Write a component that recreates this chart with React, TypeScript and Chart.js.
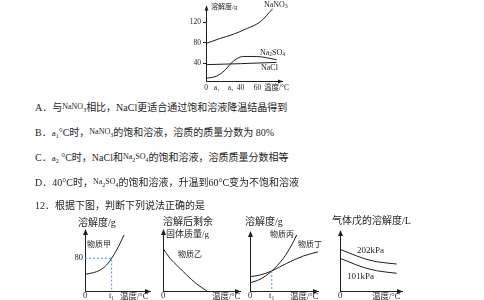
import React, { useEffect, useRef } from 'react';
import { Chart, registerables } from 'chart.js';

Chart.register(...registerables);

const FAMILY = '"Liberation Serif", "DejaVu Serif", "Noto Sans CJK SC", serif';
const INK = '#1e1e1e';
const GUIDE = '#3f9fd4';

// ---------- Data: chart 1 (NaNO3 / Na2SO4 / NaCl) ----------
const A1 = 12.4;
const A2 = 28.7;
const TEMP_TICKS = [0, A1, A2, 40, 60];
const TEMP_TICK_LABELS = ['0', 'a₁', 'a₂', '40', '60'];
const SOL_TICKS = [40, 80, 120];
const SOL_TICK_LABELS = ['40', '80', '120'];
const NANO3_T = [0, 16, 32, 47, 63, 77.5];
const NANO3_S = [78.6, 88, 96.4, 107, 120.3, 145.6];
const NA2SO4_T = [0, 12.4, 22, 28.7, 35.7, 43.4, 59, 70.6, 82.2];
const NA2SO4_S = [11.1, 15.5, 26.8, 39.5, 49, 53.4, 53.4, 50.9, 47.1];
const NACL_T = [0, 40, 82.2];
const NACL_S = [37.6, 39.5, 42];

// ---------- Data: 物质甲 ----------
const JIA_T1 = 41;
const JIA_T = [0, 12.8, 23, 33.3, 41, 48.7, 56.4, 60];
const JIA_S = [40.8, 44.7, 51, 63.6, 80, 100, 124.7, 137];
const JIA_GUIDE_X = [0, JIA_T1, JIA_T1];
const JIA_GUIDE_Y = [80, 80, 0];
const JIA_Y_TICKS = [80];
const JIA_Y_LABELS = ['80'];

// ---------- Data: 物质乙 ----------
const YI_T = [0, 9.1, 19.9, 30.8, 43.8, 57];
const YI_M = [70, 53.6, 39.8, 26.2, 11.5, 0];

// ---------- Data: 物质丙 / 物质丁 ----------
const BD_T1 = 32;
const BING_T = [0, 14.7, 32, 49, 61.3, 68.7];
const BING_S = [14, 19.8, 33.9, 55.4, 78, 94.9];
const DING_T = [0, 14.7, 32, 53.9, 78.4, 100];
const DING_S = [24.2, 27.1, 33.9, 46.9, 59.3, 66.3];
const BD_GUIDE_X = [BD_T1, BD_T1];
const BD_GUIDE_Y = [33.9, 0];

// ---------- Data: 气体戊 ----------
const GAS_T = [0, 16.1, 37.6, 59.2, 91.5];
const GAS_202 = [69.5, 62.8, 54.5, 48.8, 45];
const GAS_101 = [54.5, 47.8, 39.5, 33.8, 29.5];

const pts = (xs: number[], ys: number[]) => xs.map((x, i) => ({ x, y: ys[i] }));
const curve = (xs: number[], ys: number[]) => ({
  data: pts(xs, ys),
  borderColor: INK,
  backgroundColor: INK,
  borderWidth: 1,
  pointRadius: 0,
  tension: 0.4,
  cubicInterpolationMode: 'monotone',
  fill: false,
});
const guide = (xs: number[], ys: number[]) => ({
  data: pts(xs, ys),
  borderColor: GUIDE,
  backgroundColor: GUIDE,
  borderWidth: 1,
  borderDash: [2, 2],
  pointRadius: 0,
  tension: 0,
  fill: false,
});

type Ann = { t: string; x: number; y: number; s: number };
type Spec = {
  left: number; top: number; width: number; height: number;
  area: { left: number; top: number; right: number; bottom: number };
  x: [number, number]; y: [number, number];
  xTicks: number[]; xLabels: string[];
  yTicks: number[]; yLabels: string[];
  tickSize: number; xPad: number; yPad: number; yTickLen: number;
  arrowLen: number; arrowHalf: number;
  datasets: any[];
  labels: Ann[];
};

function drawRich(ctx: CanvasRenderingContext2D, text: string, x: number, cy: number, size: number) {
  const segs = text.split(/(_\d)/).filter(Boolean).map((p) =>
    p.startsWith('_') ? { t: p.slice(1), sub: true } : { t: p, sub: false });
  let cx = x;
  ctx.textAlign = 'left';
  ctx.textBaseline = 'middle';
  for (const sg of segs) {
    const sz = sg.sub ? size * 0.68 : size;
    ctx.font = `${sz}px ${FAMILY}`;
    ctx.fillText(sg.t, cx, sg.sub ? cy + size * 0.32 : cy);
    cx += ctx.measureText(sg.t).width;
  }
}

function decoPlugin(s: Spec) {
  return {
    id: 'deco',
    afterDraw(chart: any) {
      const { ctx, chartArea: a } = chart;
      ctx.save();
      ctx.fillStyle = INK;
      const ax = Math.round(a.left) + 0.5;
      const ay = Math.round(a.bottom) + 0.5;
      ctx.beginPath();
      ctx.moveTo(ax, a.top - 1);
      ctx.lineTo(ax - s.arrowHalf, a.top - 1 + s.arrowLen);
      ctx.lineTo(ax + s.arrowHalf, a.top - 1 + s.arrowLen);
      ctx.closePath();
      ctx.fill();
      ctx.beginPath();
      ctx.moveTo(a.right + 1, ay);
      ctx.lineTo(a.right + 1 - s.arrowLen, ay - s.arrowHalf);
      ctx.lineTo(a.right + 1 - s.arrowLen, ay + s.arrowHalf);
      ctx.closePath();
      ctx.fill();
      for (const l of s.labels) drawRich(ctx, l.t, l.x - s.left, l.y - s.top, l.s);
      ctx.restore();
    },
  };
}

function buildConfig(s: Spec): any {
  const font = { family: FAMILY, size: s.tickSize };
  return {
    type: 'line',
    data: { datasets: s.datasets },
    options: {
      responsive: false,
      animation: false,
      devicePixelRatio: 1,
      events: [],
      layout: {
        padding: { left: 0, top: s.area.top - s.top, right: s.left + s.width - s.area.right, bottom: 0 },
      },
      plugins: {
        legend: { display: false }, tooltip: { enabled: false }, title: { display: false },
        colors: { enabled: false },
      },
      scales: {
        x: {
          type: 'linear', min: s.x[0], max: s.x[1],
          grid: { display: false, drawTicks: false },
          border: { display: true, color: INK, width: 1 },
          afterBuildTicks: (axis: any) => { axis.ticks = s.xTicks.map((v) => ({ value: v })); },
          afterFit: (axis: any) => { axis.height = s.top + s.height - s.area.bottom; },
          ticks: {
            autoSkip: false, maxRotation: 0, minRotation: 0, padding: s.xPad, color: INK, font,
            callback: (_v: any, i: number) => s.xLabels[i],
          },
        },
        y: {
          type: 'linear', min: s.y[0], max: s.y[1],
          grid: {
            display: s.yTickLen > 0, drawOnChartArea: false, drawTicks: s.yTickLen > 0,
            tickLength: s.yTickLen, color: INK,
          },
          border: { display: true, color: INK, width: 1 },
          afterBuildTicks: (axis: any) => { axis.ticks = s.yTicks.map((v) => ({ value: v })); },
          afterFit: (axis: any) => { axis.width = s.area.left - s.left; },
          ticks: {
            autoSkip: false, padding: s.yPad, color: INK, font,
            callback: (_v: any, i: number) => s.yLabels[i],
          },
        },
      },
    },
    plugins: [decoPlugin(s)],
  };
}

const SPECS: Spec[] = [
  {
    left: 180, top: 0, width: 120, height: 95,
    area: { left: 206, top: 5, right: 282, bottom: 81 },
    x: [0, 88.4], y: [6, 150],
    xTicks: TEMP_TICKS, xLabels: TEMP_TICK_LABELS, yTicks: SOL_TICKS, yLabels: SOL_TICK_LABELS,
    tickSize: 7.5, xPad: 3, yPad: 2, yTickLen: 3, arrowLen: 5, arrowHalf: 2,
    datasets: [curve(NANO3_T, NANO3_S), curve(NA2SO4_T, NA2SO4_S), curve(NACL_T, NACL_S)],
    labels: [
      { t: '溶解度/g', x: 211, y: 7, s: 7 },
      { t: 'NaNO_3', x: 264, y: 4.5, s: 8 },
      { t: 'Na_2SO_4', x: 260, y: 52.5, s: 8 },
      { t: 'NaCl', x: 261, y: 68, s: 8 },
      { t: '温度/°C', x: 264, y: 88.5, s: 7.5 },
    ],
  },
  {
    left: 60, top: 215, width: 100, height: 85,
    area: { left: 85, top: 230, right: 150, bottom: 291 },
    x: [0, 100], y: [0, 149],
    xTicks: [0, JIA_T1], xLabels: ['0', 't₁'], yTicks: JIA_Y_TICKS, yLabels: JIA_Y_LABELS,
    tickSize: 8.5, xPad: 0, yPad: 2, yTickLen: 0, arrowLen: 6, arrowHalf: 2.5,
    datasets: [guide(JIA_GUIDE_X, JIA_GUIDE_Y), curve(JIA_T, JIA_S)],
    labels: [
      { t: '溶解度/g', x: 78, y: 223, s: 10 },
      { t: '物质甲', x: 87, y: 245, s: 8 },
      { t: '温度/°C', x: 120, y: 297, s: 8.5 },
    ],
  },
  {
    left: 150, top: 215, width: 100, height: 85,
    area: { left: 163, top: 230, right: 240, bottom: 291 },
    x: [0, 100], y: [0, 100],
    xTicks: [0], xLabels: ['0'], yTicks: [], yLabels: [],
    tickSize: 8.5, xPad: 0, yPad: 2, yTickLen: 0, arrowLen: 6, arrowHalf: 2.5,
    datasets: [curve(YI_T, YI_M)],
    labels: [
      { t: '溶解后剩余', x: 163, y: 222, s: 10 },
      { t: '固体质量/g', x: 166, y: 235, s: 9 },
      { t: '物质乙', x: 178, y: 255, s: 8 },
      { t: '温度/°C', x: 212, y: 297, s: 8.5 },
    ],
  },
  {
    left: 235, top: 215, width: 95, height: 85,
    area: { left: 250, top: 232, right: 318, bottom: 291 },
    x: [0, 100], y: [0, 100],
    xTicks: [0, BD_T1], xLabels: ['0', 't₁'], yTicks: [], yLabels: [],
    tickSize: 8.5, xPad: 0, yPad: 2, yTickLen: 0, arrowLen: 6, arrowHalf: 2.5,
    datasets: [guide(BD_GUIDE_X, BD_GUIDE_Y), curve(BING_T, BING_S), curve(DING_T, DING_S)],
    labels: [
      { t: '溶解度/g', x: 245, y: 222, s: 10 },
      { t: '物质丙', x: 270, y: 235, s: 8 },
      { t: '物质丁', x: 298, y: 245, s: 8 },
      { t: '温度/°C', x: 290, y: 297, s: 8.5 },
    ],
  },
  {
    left: 325, top: 215, width: 95, height: 85,
    area: { left: 340, top: 231, right: 402, bottom: 291 },
    x: [0, 100], y: [0, 100],
    xTicks: [0], xLabels: ['0'], yTicks: [], yLabels: [],
    tickSize: 8.5, xPad: 0, yPad: 2, yTickLen: 0, arrowLen: 6, arrowHalf: 2.5,
    datasets: [curve(GAS_T, GAS_202), curve(GAS_T, GAS_101)],
    labels: [
      { t: '气体戊的溶解度/L', x: 332, y: 221, s: 10 },
      { t: '202kPa', x: 357, y: 251, s: 9 },
      { t: '101kPa', x: 347, y: 277, s: 9 },
      { t: '温度/°C', x: 372, y: 297, s: 8.5 },
    ],
  },
];

function MiniChart({ spec }: { spec: Spec }) {
  const ref = useRef<HTMLCanvasElement>(null);
  useEffect(() => {
    const chart = new Chart(ref.current as HTMLCanvasElement, buildConfig(spec));
    return () => chart.destroy();
  }, [spec]);
  return (
    <canvas
      ref={ref}
      width={spec.width}
      height={spec.height}
      style={{ position: 'absolute', left: spec.left, top: spec.top, width: spec.width, height: spec.height }}
    />
  );
}

function Formula({ f }: { f: string }) {
  const segs = f.split(/(_\d)/).filter(Boolean);
  return (
    <span style={{ fontSize: 8, position: 'relative', top: -2 }}>
      {segs.map((p, i) =>
        p.startsWith('_') ? (
          <span key={i} style={{ fontSize: 6, position: 'relative', top: 3 }}>{p.slice(1)}</span>
        ) : (
          <span key={i}>{p}</span>
        ))}
    </span>
  );
}

function Sub({ b, n }: { b: string; n: string }) {
  return (
    <span style={{ fontSize: 9 }}>
      {b}
      <span style={{ fontSize: 6, position: 'relative', top: 2 }}>{n}</span>
    </span>
  );
}

const lineStyle = (cy: number): React.CSSProperties => ({
  position: 'absolute', left: 35, top: cy - 7, height: 14, lineHeight: '14px',
  fontSize: 10, whiteSpace: 'nowrap', color: INK,
});

export default function App() {
  return (
    <div
      style={{
        position: 'absolute', left: 0, top: 0, width: 484, height: 300, overflow: 'hidden',
        background: '#fff', fontFamily: FAMILY,
      }}
    >
      {SPECS.map((s, i) => <MiniChart key={i} spec={s} />)}
      <div style={lineStyle(107.5)}>A．与<Formula f="NaNO_3" />相比，NaCl更适合通过饱和溶液降温结晶得到</div>
      <div style={lineStyle(132.5)}>B．<Sub b="a" n="1" />°C时，<Formula f="NaNO_3" />的饱和溶液，溶质的质量分数为 80%</div>
      <div style={lineStyle(158)}>C．<Sub b="a" n="2" /> °C时，NaCl和<Formula f="Na_2SO_4" />的饱和溶液，溶质质量分数相等</div>
      <div style={lineStyle(182.5)}>D．40°C时，<Formula f="Na_2SO_4" />的饱和溶液，升温到60°C变为不饱和溶液</div>
      <div style={lineStyle(205.5)}>12．根据下图，判断下列说法正确的是</div>
    </div>
  );
}
